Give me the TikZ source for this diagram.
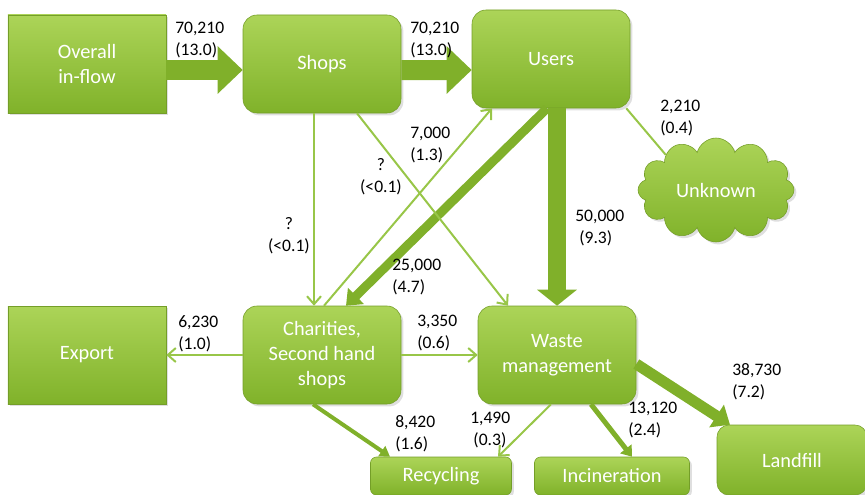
\documentclass[tikz,border=0pt]{standalone}
\usepackage{fontspec}
\setmainfont{Carlito}
\usetikzlibrary{arrows.meta,shapes.symbols,shadows}

\definecolor{leaftop}{RGB}{172,212,88}
\definecolor{leafbot}{RGB}{128,178,42}
\definecolor{leafedge}{RGB}{116,158,40}
\definecolor{stem}{RGB}{152,198,72}
\definecolor{pipecol}{RGB}{128,176,42}

\tikzset{
  box/.style={draw=leafedge, top color=leaftop, bottom color=leafbot, text=white, align=center,
    font=\fontsize{14.5pt}{18pt}\selectfont,
    drop shadow={opacity=0.25, shadow xshift=0.6mm, shadow yshift=-0.6mm}},
  main/.style={box, rectangle, minimum width=39.5mm, minimum height=24.5mm},
  soft/.style={main, rounded corners=3.5mm},
  low/.style={box, rounded corners=1.5mm, minimum height=9.5mm},
  qty/.style={anchor=north west, inner sep=0pt, align=left, font=\fontsize{12.5pt}{15.6pt}\selectfont},
  link/.style={draw=stem, line width=0.5mm},
  thin/.style={link, -{Straight Barb[length=2mm, width=3.5mm]}},
  pipe/.style={draw=pipecol, line width=#1},
}

\begin{document}
\begin{tikzpicture}[x=0.25mm, y=-0.25mm, node distance=58.75mm]
            \useasboundingbox (0,0) rectangle (865,495);

            %top row
            \node[main] (FLOW) at (87,64) {Overall\\in-flow};
            \node[soft] (SHOPS) [right of=FLOW] {Shops};
            \node[soft] (USERS) [right of=SHOPS, xshift=-1.5mm, yshift=1.25mm] {Users};
            \node[box, cloud, cloud puffs=12, cloud ignores aspect, minimum width=39mm, minimum height=26mm] (UNKNOWN) at (716,190) {Unknown};

            %middle row
            \node[main] (EXPORT) at (87,355) {Export};
            \node[soft] (CHAR) [right of=EXPORT] {Charities,\\Second hand\\shops};
            \node[soft] (WASTE) [right of=CHAR] {Waste\\management};

            %bottom row
            \node[low, minimum width=35.25mm] (RECY) at (441,476) {Recycling};
            \node[low, minimum width=38.75mm] (INC) at (612,476) {Incineration};
            \node[low, rounded corners=3mm, minimum width=37.5mm, minimum height=17.5mm] (LAND) at (792,460) {Landfill};

            \draw[pipe=5mm, -{Triangle[length=6.25mm, width=11.5mm]}] ([yshift=-1.5mm]FLOW.east) -- ([yshift=-1.5mm]SHOPS.west);
            \draw[pipe=5mm, -{Triangle[length=6.25mm, width=11.5mm]}] ([yshift=-1.5mm]SHOPS.east) -- ([yshift=-2.75mm]USERS.west);
            \draw[pipe=4.5mm, -{Triangle[length=4mm, width=9.75mm]}] (USERS.south -| WASTE.north) -- (WASTE.north);
            \draw[pipe=2.25mm, -{Triangle[length=3.5mm, width=5.5mm]}] ([xshift=-1mm]USERS.south) -- ([xshift=6mm]CHAR.north);
            \draw[link] ([xshift=-1mm]USERS.south east) -- (UNKNOWN.145);

            \draw[thin] ([xshift=-2mm]SHOPS.south) -- ([xshift=-2mm]CHAR.north);
            \draw[thin] ([xshift=8.75mm]SHOPS.south) -- ([xshift=-12.25mm]WASTE.north);
            \draw[thin] ([xshift=0.5mm]CHAR.north) -- ([xshift=-14.75mm]USERS.south);
            \draw[thin] (CHAR.west) -- (CHAR.west -| EXPORT.east);
            \draw[thin] (CHAR.east) -- (CHAR.east -| WASTE.west);

            \draw[pipe=1mm, -{Triangle[length=2.5mm, width=3mm]}] ([xshift=-2.25mm]CHAR.south) -- ([xshift=-12.75mm]RECY.north);
            \draw[thin] ([xshift=-1.5mm]WASTE.south) -- ([xshift=14.25mm]RECY.north);
            \draw[pipe=1.25mm, -{Triangle[length=2.5mm, width=3.5mm]}] ([xshift=8.5mm]WASTE.south) -- ([xshift=5mm]INC.north);
            \draw[pipe=2.75mm, -{Triangle[length=4mm, width=6.5mm]}] ([yshift=-2.25mm]WASTE.east) -- ([xshift=-15.5mm]LAND.north);

            %flow figures
            \node[qty] (qFLOW) at (175,22) {70,210\\(13.0)};
            \node[qty] (qSHOPS) at (410,22) {70,210\\(13.0)};
            \node[qty] (qBACK) at (410,127) {7,000\\(1.3)};
            \node[qty, anchor=north, align=center] (qCROSS) at (381,158) {?\\(<0.1)};
            \node[qty, anchor=north, align=center] (qCHAR) at (289,217) {?\\(<0.1)};
            \node[qty] (qGIVE) at (392,259) {25,000\\(4.7)};
            \node[qty] (qWASTE) at (575,210) {50,000\\\hspace{1mm}(9.3)};
            \node[qty] (qLOST) at (660,100) {2,210\\(0.4)};
            \node[qty] (qEXP) at (178,315) {6,230\\(1.0)};
            \node[qty] (qSIDE) at (417,315) {3,350\\(0.6)};
            \node[qty] (qRECY) at (395,415) {8,420\\(1.6)};
            \node[qty] (qWRECY) at (470,412) {1,490\\\hspace{0.8mm}(0.3)};
            \node[qty] (qINC) at (628,402) {13,120\\(2.4)};
            \node[qty] (qLAND) at (732,363) {38,730\\(7.2)};
        \end{tikzpicture}
\end{document}
